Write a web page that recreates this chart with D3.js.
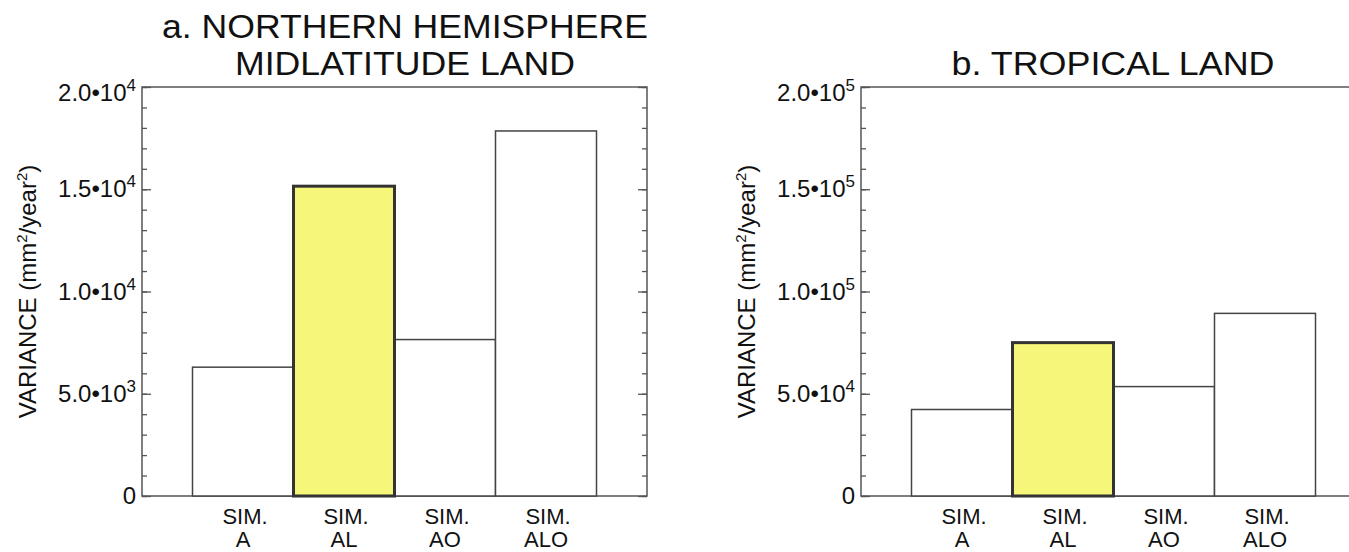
<!DOCTYPE html>
<html>
<head>
<meta charset="utf-8">
<script src="https://cdn.jsdelivr.net/npm/d3@7"></script>
<style>
  body { margin: 0; background: #fff; }
  svg { display: block; overflow: hidden; }
  text { font-family: "Liberation Sans", Arial, sans-serif; fill: #111; }
</style>
</head>
<body>
<div id="chart"></div>
<script>
// simulations on the x axis
const categories = ['A', 'AL', 'AO', 'ALO'];
const highlighted = 'AL';

// panel a: NH midlatitude land variance (mm^2/year^2)
const valuesA = [6300, 15150, 7650, 17850];
const ticksA = [0, 5000, 10000, 15000, 20000];
const tickLabelsA = [['0', ''], ['5.0\u202210', '3'], ['1.0\u202210', '4'], ['1.5\u202210', '4'], ['2.0\u202210', '4']];
const titleA = ['a. NORTHERN HEMISPHERE', 'MIDLATITUDE LAND'];

// panel b: tropical land variance
const valuesB = [42300, 75000, 53500, 89300];
const ticksB = [0, 50000, 100000, 150000, 200000];
const tickLabelsB = [['0', ''], ['5.0\u202210', '4'], ['1.0\u202210', '5'], ['1.5\u202210', '5'], ['2.0\u202210', '5']];
const titleB = ['b. TROPICAL LAND'];

const svg = d3.select('#chart').append('svg')
  .attr('width', 1349)
  .attr('height', 552);

const width = 505;
const height = 409;

function drawPanel(opts) {
  const g = svg.append('g').attr('transform', `translate(${opts.left},87)`);

  const x = d3.scaleBand().domain(categories).range([width / 10, width * 9 / 10]).padding(0);
  const y = d3.scaleLinear().domain([0, opts.max]).range([height, 0]);

  // minor ticks, left and right, pointing inward
  const minor = d3.range(0, opts.max + 1, opts.minorStep);
  g.append('g').call(d3.axisRight(y).tickValues(minor).tickSize(5).tickFormat(''));
  g.append('g').attr('transform', `translate(${width},0)`)
    .call(d3.axisLeft(y).tickValues(minor).tickSize(5).tickFormat(''));
  // major ticks
  g.append('g').call(d3.axisRight(y).tickValues(opts.ticks).tickSize(9).tickFormat(''));
  g.append('g').attr('transform', `translate(${width},0)`)
    .call(d3.axisLeft(y).tickValues(opts.ticks).tickSize(9).tickFormat(''));
  g.selectAll('.domain').remove();
  g.selectAll('.tick line').attr('stroke', '#555').attr('stroke-width', 1.3);

  // frame
  g.append('rect')
    .attr('width', width).attr('height', height)
    .attr('fill', 'none').attr('stroke', '#555').attr('stroke-width', 1.5);

  // tick labels
  opts.ticks.forEach((t, i) => {
    const lab = g.append('text')
      .attr('x', -6)
      .attr('y', Math.max(y(t), 6) + 8)
      .attr('text-anchor', 'end')
      .attr('font-size', 24);
    lab.append('tspan').text(opts.tickLabels[i][0]);
    if (opts.tickLabels[i][1]) {
      lab.append('tspan').attr('dy', -10).attr('font-size', 17).text(opts.tickLabels[i][1]);
    }
  });

  // y axis title
  const yt = g.append('text')
    .attr('transform', `translate(-106,${height / 2}) rotate(-90)`)
    .attr('text-anchor', 'middle')
    .attr('font-size', 24);
  yt.append('tspan').text('VARIANCE (mm');
  yt.append('tspan').attr('dy', -9).attr('font-size', 15).text('2');
  yt.append('tspan').attr('dy', 9).text('/year');
  yt.append('tspan').attr('dy', -9).attr('font-size', 15).text('2');
  yt.append('tspan').attr('dy', 9).text(')');

  // bars, highlighted one last so its thick border sits on top
  const order = categories.map((c, i) => i).sort((a, b) =>
    (categories[a] === highlighted) - (categories[b] === highlighted));
  g.selectAll('.bar')
    .data(order.map(i => ({ cat: categories[i], v: opts.values[i] })))
    .enter()
    .append('rect')
    .attr('class', 'bar')
    .attr('x', d => x(d.cat))
    .attr('y', d => y(d.v))
    .attr('width', x.bandwidth())
    .attr('height', d => height - y(d.v))
    .attr('fill', d => d.cat === highlighted ? '#f5f67a' : '#fff')
    .attr('stroke', d => d.cat === highlighted ? '#333' : '#444')
    .attr('stroke-width', d => d.cat === highlighted ? 3 : 1.5);

  // category labels
  categories.forEach(c => {
    const cx = x(c) + x.bandwidth() / 2;
    g.append('text').attr('x', cx + 2).attr('y', height + 28)
      .attr('text-anchor', 'middle').attr('font-size', 22).text('SIM.');
    g.append('text').attr('x', cx).attr('y', height + 51)
      .attr('text-anchor', 'middle').attr('font-size', 22).text(c);
  });

  // title
  opts.title.forEach((line, i) => {
    g.append('text')
      .attr('x', opts.titleX)
      .attr('y', opts.titleY[i])
      .attr('text-anchor', 'middle')
      .attr('font-size', 33)
      .attr('textLength', opts.titleW[i])
      .attr('lengthAdjust', 'spacingAndGlyphs')
      .text(line);
  });
}

drawPanel({
  left: 142, max: 20000, minorStep: 1000,
  ticks: ticksA, tickLabels: tickLabelsA, values: valuesA,
  title: titleA, titleX: 263, titleY: [-49, -12], titleW: [486, 340]
});

drawPanel({
  left: 861, max: 200000, minorStep: 10000,
  ticks: ticksB, tickLabels: tickLabelsB, values: valuesB,
  title: titleB, titleX: 252, titleY: [-12], titleW: [323]
});
</script>
</body>
</html>
